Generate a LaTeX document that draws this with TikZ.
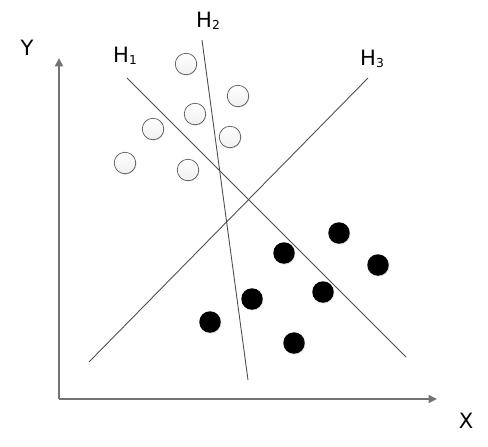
\documentclass[tikz,border=0pt]{standalone}
\usepackage{fontspec}
\setmainfont{DejaVu Sans}
\usetikzlibrary{shadows,arrows.meta}
\newcommand{\hsub}[1]{\raisebox{-0.2ex}{\scriptsize #1}}
\begin{document}
\begin{tikzpicture}[x=0.02cm, y=-0.02cm, every node/.style={font=\large},
    pt/.style={circle, minimum size=0.43cm, inner sep=0pt, drop shadow={shadow xshift=0.4pt, shadow yshift=-0.5pt, opacity=0.25}},
    hollow/.style={pt, draw=gray!70!black, top color=white, bottom color=gray!12},
    solid/.style={pt, fill=black},
    axis/.style={-{Triangle[length=4.8pt,width=4.6pt]}, gray!90!black, line width=0.8pt},
    hyper/.style={draw=black!70, line width=0.5pt}]
    \useasboundingbox (0,0) rectangle (488,447);
    % axes
    \coordinate (o) at (59,399);
    \coordinate (xend) at (437,399);
    \coordinate (yend) at (59,58);
    \draw[axis] (o) -- (xend);
    \draw[axis] (o) -- (yend);
    \node (xlab) at (466,421) {X};
    \node (ylab) at (27,48) {Y};
    % separating lines
    \coordinate (h1a) at (127,78);
    \coordinate (h1b) at (406,357);
    \coordinate (h2a) at (202,40);
    \coordinate (h2b) at (248,380);
    \coordinate (h3a) at (89,362);
    \coordinate (h3b) at (368,78);
    \draw[hyper] (h1a) -- (h1b);
    \draw[hyper] (h2a) -- (h2b);
    \draw[hyper] (h3a) -- (h3b);
    \node (h1lab) at (125,56) {H\hsub{1}};
    \node (h2lab) at (208,21) {H\hsub{2}};
    \node (h3lab) at (372,59) {H\hsub{3}};
    % class one
    \foreach \x/\y [count=\k] in {186/64, 238/96, 195/114, 153/129, 230/137, 125/163, 188/170}
        \node[hollow] (w\k) at (\x,\y) {};
    % class two
    \foreach \x/\y [count=\k] in {339/233, 284/253, 378/265, 323/292, 252/299, 210/322, 294/343}
        \node[solid] (b\k) at (\x,\y) {};
\end{tikzpicture}
\end{document}
